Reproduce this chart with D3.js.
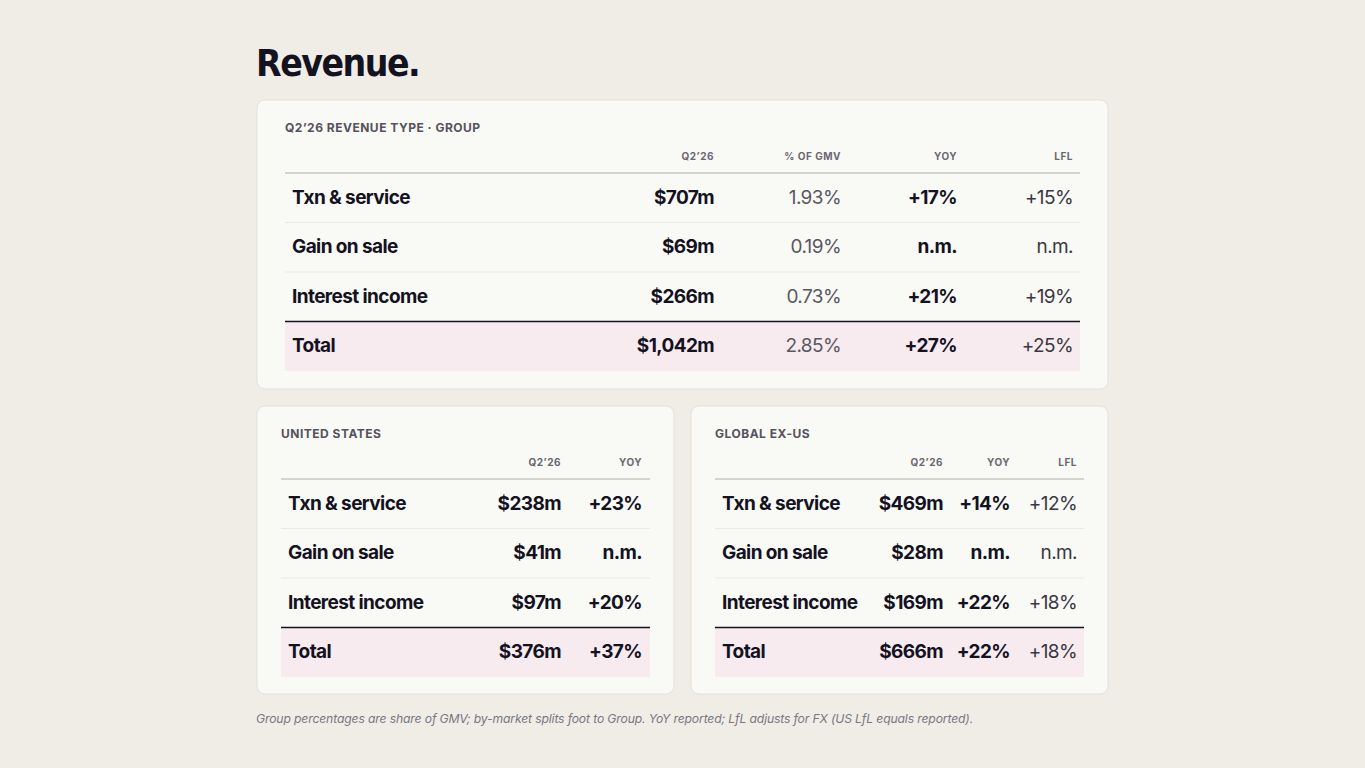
<!DOCTYPE html>
<html><head><meta charset="utf-8">
<script src="https://cdn.jsdelivr.net/npm/d3@7"></script>
<style>body{margin:0;background:#f0ede7;}svg{display:block;}</style>
</head><body><svg id="chart" width="1365" height="768"></svg>
<script>
const rowLabels = ['Txn & service', 'Gain on sale', 'Interest income', 'Total'];

const groupCols = ['Q2\u201926', '% OF GMV', 'YOY', 'LFL'];
const groupQ2 = ['$707m', '$69m', '$266m', '$1,042m'];
const groupGmv = ['1.93%', '0.19%', '0.73%', '2.85%'];
const groupYoy = ['+17%', 'n.m.', '+21%', '+27%'];
const groupLfl = ['+15%', 'n.m.', '+19%', '+25%'];

const usCols = ['Q2\u201926', 'YOY'];
const usQ2 = ['$238m', '$41m', '$97m', '$376m'];
const usYoy = ['+23%', 'n.m.', '+20%', '+37%'];

const exCols = ['Q2\u201926', 'YOY', 'LFL'];
const exQ2 = ['$469m', '$28m', '$169m', '$666m'];
const exYoy = ['+14%', 'n.m.', '+22%', '+22%'];
const exLfl = ['+12%', 'n.m.', '+18%', '+18%'];

const svg = d3.select('#chart');
const FONT = 'Inter, "Noto Sans", sans-serif';
const styles = {
  bold: {w: 700, c: '#14121f'},
  gray: {w: 400, c: '#5a5762'},
  reg:  {w: 400, c: '#3a3742'}
};

svg.append('text').attr('x', 256).attr('y', 76)
  .attr('font-family', '"DejaVu Sans", sans-serif').attr('font-stretch', 'condensed')
  .attr('font-weight', 700).attr('font-size', 37).attr('letter-spacing', -1.5)
  .attr('fill', '#14121f').text('Revenue.');

function card(box, title, cols, colX, series, styleKeys) {
  const g = svg.append('g');
  g.append('rect').attr('x', box.x).attr('y', box.y).attr('width', box.w).attr('height', box.h)
    .attr('rx', 8).attr('fill', '#f9f9f6').attr('stroke', '#e4e1da');
  g.append('text').attr('x', box.tx0).attr('y', box.y + 32).attr('font-family', FONT)
    .attr('font-size', 12).attr('font-weight', 700).attr('letter-spacing', 0.5)
    .attr('fill', '#55525c').text(title);
  const x = d3.scaleOrdinal().domain(cols).range(colX);
  g.selectAll('.ch').data(cols).join('text')
    .attr('x', d => x(d)).attr('y', box.y + 60).attr('text-anchor', 'end')
    .attr('font-family', FONT).attr('font-size', 10).attr('font-weight', 700)
    .attr('letter-spacing', 0.5).attr('fill', '#6a6772').text(d => d);
  const top = box.y + 73;
  const y = d3.scaleBand().domain(rowLabels).range([top, top + 49 * 4 + 2]).paddingInner(0);
  const last = rowLabels[rowLabels.length - 1];
  g.append('rect').attr('x', box.tx0).attr('y', y(last)).attr('width', box.tx1 - box.tx0)
    .attr('height', y.bandwidth()).attr('fill', '#f7ebef');
  g.append('line').attr('x1', box.tx0).attr('x2', box.tx1).attr('y1', top).attr('y2', top)
    .attr('stroke', '#c9c6c0').attr('stroke-width', 1.5);
  rowLabels.slice(1).forEach(r => {
    g.append('line').attr('x1', box.tx0).attr('x2', box.tx1).attr('y1', y(r)).attr('y2', y(r))
      .attr('stroke', r === last ? '#14121f' : '#ebe9e4').attr('stroke-width', r === last ? 1.5 : 1);
  });
  g.selectAll('.rl').data(rowLabels).join('text')
    .attr('x', box.tx0 + 7).attr('y', d => y(d) + y.bandwidth() / 2 + 6)
    .attr('font-family', FONT).attr('font-size', 19).attr('font-weight', 700)
    .attr('letter-spacing', -0.6).attr('fill', '#14121f').text(d => d);
  series.forEach((vals, ci) => {
    const s = styles[styleKeys[ci]];
    g.selectAll('.v' + ci).data(vals).join('text')
      .attr('x', x(cols[ci])).attr('y', (d, i) => y(rowLabels[i]) + y.bandwidth() / 2 + 6)
      .attr('text-anchor', 'end').attr('font-family', FONT).attr('font-size', 19)
      .attr('font-weight', s.w).attr('letter-spacing', -0.6).attr('fill', s.c).text(d => d);
  });
}

card({x: 257, y: 100, w: 851, h: 289, tx0: 285, tx1: 1080}, 'Q2\u201926 REVENUE TYPE \u00b7 GROUP',
  groupCols, [714, 841, 957, 1073], [groupQ2, groupGmv, groupYoy, groupLfl], ['bold', 'gray', 'bold', 'reg']);
card({x: 257, y: 406, w: 417, h: 288, tx0: 281, tx1: 650}, 'UNITED STATES',
  usCols, [561, 642], [usQ2, usYoy], ['bold', 'bold']);
card({x: 691, y: 406, w: 417, h: 288, tx0: 715, tx1: 1084}, 'GLOBAL EX-US',
  exCols, [943, 1010, 1077], [exQ2, exYoy, exLfl], ['bold', 'bold', 'reg']);

svg.append('text').attr('x', 256).attr('y', 723).attr('font-family', FONT)
  .attr('font-size', 12.2).attr('font-style', 'italic').attr('fill', '#7a7780')
  .attr('letter-spacing', -0.15)
  .text('Group percentages are share of GMV; by-market splits foot to Group. YoY reported; LfL adjusts for FX (US LfL equals reported).');
</script></body></html>
